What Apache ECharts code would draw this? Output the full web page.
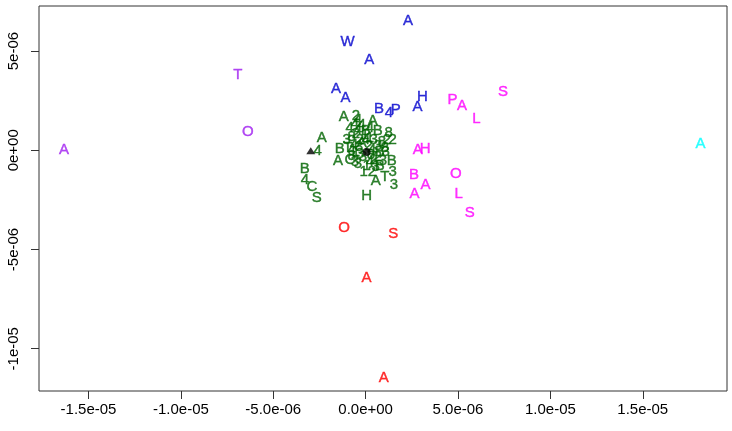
<!DOCTYPE html>
<html>
<head>
<meta charset="utf-8">
<script src="https://cdn.jsdelivr.net/npm/echarts@6/dist/echarts.min.js"></script>
<style>html,body{margin:0;padding:0;background:#fff}#c{width:732px;height:431px}</style>
</head>
<body>
<div id="c"></div>
<script>
// tick values and labels
const xTickValues = [-15e-6, -10e-6, -5e-6, 0, 5e-6, 10e-6, 15e-6];
const xTickLabels = ['-1.5e-05', '-1.0e-05', '-5.0e-06', '0.0e+00', '5.0e-06', '1.0e-05', '1.5e-05'];
const yTickValues = [-10e-6, -5e-6, 0, 5e-6];
const yTickLabels = ['-1e-05', '-5e-06', '0e+00', '5e-06'];

// points: [x, y, label]
const purplePoints = [
  [-16.33e-6, 0.0e-6, 'A'], [-6.92e-6, 3.78e-6, 'T'], [-6.37e-6, 0.91e-6, 'O']
];
const bluePoints = [
  [2.30e-6, 6.51e-6, 'A'], [-0.98e-6, 5.47e-6, 'W'], [0.19e-6, 4.57e-6, 'A'],
  [-1.61e-6, 3.11e-6, 'A'], [-1.09e-6, 2.65e-6, 'A'], [3.08e-6, 2.69e-6, 'H'],
  [2.81e-6, 2.18e-6, 'A'], [0.73e-6, 2.09e-6, 'B'], [1.26e-6, 1.91e-6, '4'],
  [1.63e-6, 2.04e-6, 'P']
];
const magentaPoints = [
  [7.44e-6, 2.94e-6, 'S'], [4.70e-6, 2.55e-6, 'P'], [5.22e-6, 2.22e-6, 'A'],
  [6.00e-6, 1.60e-6, 'L'], [2.82e-6, 0.0e-6, 'A'], [3.22e-6, 0.09e-6, 'H'],
  [2.62e-6, -1.26e-6, 'B'], [3.24e-6, -1.76e-6, 'A'], [2.65e-6, -2.22e-6, 'A'],
  [4.88e-6, -1.17e-6, 'O'], [5.04e-6, -2.18e-6, 'L'], [5.64e-6, -3.16e-6, 'S']
];
const cyanPoints = [
  [18.12e-6, 0.30e-6, 'A']
];
const redPoints = [
  [-1.16e-6, -3.91e-6, 'O'], [1.49e-6, -4.20e-6, 'S'], [0.05e-6, -6.41e-6, 'A'],
  [0.98e-6, -11.45e-6, 'A']
];
const greenPoints = [
  [-1.18e-6, 1.66e-6, 'A'], [-0.53e-6, 1.71e-6, '2'], [0.39e-6, 1.46e-6, 'A'],
  [-0.58e-6, 1.31e-6, '4'], [-0.42e-6, 1.01e-6, '4'], [-0.75e-6, 0.70e-6, '8'],
  [-0.31e-6, 0.50e-6, '2'], [-0.96e-6, 0.10e-6, 'T'], [-1.40e-6, 0.05e-6, 'B'],
  [-1.50e-6, -0.55e-6, 'A'], [-0.85e-6, -0.50e-6, 'C'], [-0.42e-6, -0.70e-6, '3'],
  [-0.10e-6, -1.11e-6, '1'], [0.06e-6, -2.32e-6, 'H'], [0.55e-6, -1.56e-6, 'A'],
  [1.04e-6, -1.36e-6, 'T'], [1.47e-6, -1.11e-6, '3'], [1.53e-6, -1.76e-6, '3'],
  [1.42e-6, -0.55e-6, 'B'], [1.09e-6, -0.10e-6, '3'], [1.15e-6, 0.50e-6, '2'],
  [1.47e-6, 0.50e-6, '2'], [0.88e-6, 0.40e-6, '8'], [0.66e-6, 0.96e-6, 'B'],
  [0.23e-6, 1.11e-6, '4'], [0.44e-6, 0.50e-6, '3'], [-0.04e-6, 0.76e-6, '1'],
  [-0.64e-6, 0.25e-6, '4'], [-0.31e-6, -0.20e-6, '3'], [0.66e-6, -0.35e-6, '2'],
  [0.23e-6, -0.60e-6, '4'], [0.55e-6, -0.86e-6, '3'], [-0.75e-6, -0.30e-6, '8'],
  [0.77e-6, -0.81e-6, 'B'], [-0.21e-6, 0.35e-6, 'A'], [0.34e-6, 0.0e-6, '4'],
  [-0.53e-6, -0.10e-6, '1'], [0.17e-6, 0.20e-6, '2'], [0.93e-6, -0.55e-6, '3'],
  [-0.86e-6, 1.11e-6, '4'], [-0.21e-6, 1.26e-6, '4'], [0.01e-6, 0.96e-6, 'B'],
  [-0.53e-6, 0.81e-6, '2'], [0.23e-6, 0.65e-6, '1'], [0.66e-6, 0.20e-6, '3'],
  [1.04e-6, 0.10e-6, '8'], [-0.37e-6, 0.15e-6, '3'], [-0.75e-6, 0.0e-6, '4'],
  [-0.15e-6, -0.35e-6, '3'], [0.28e-6, -0.25e-6, '8'], [0.44e-6, -0.50e-6, '2'],
  [-0.58e-6, -0.60e-6, '3'], [0.06e-6, -0.81e-6, '1'], [0.34e-6, -1.11e-6, '2'],
  [0.77e-6, -0.10e-6, 'B'], [-0.42e-6, 1.51e-6, '4'], [0.01e-6, 0.50e-6, '4'],
  [-1.02e-6, 0.50e-6, '3'], [1.25e-6, 0.86e-6, '8'],
  [-2.37e-6, 0.65e-6, 'A'], [-2.59e-6, -0.05e-6, '4'], [-3.29e-6, -0.96e-6, 'B'],
  [-3.29e-6, -1.51e-6, '4'], [-2.91e-6, -1.86e-6, 'C'], [-2.64e-6, -2.42e-6, 'S']
];
const trianglePoints = [[-2.97e-6, -0.03e-6]];
const dotPoints = [[0.05e-6, -0.09e-6]];

const FONT = 'Liberation Sans';
function textSeries(data, color) {
  return {
    type: 'scatter',
    data: data,
    symbol: 'circle',
    symbolSize: 1,
    itemStyle: { color: 'rgba(0,0,0,0)' },
    silent: true,
    label: {
      show: true,
      position: 'inside',
      formatter: p => p.value[2],
      color: color,
      textBorderColor: color,
      textBorderWidth: 0.4,
      fontFamily: FONT,
      fontSize: 15
    },
    z: 3
  };
}
function fmt(values, labels) {
  return v => {
    const i = values.findIndex(t => Math.abs(t - v) < 1e-10);
    return i >= 0 ? labels[i] : '';
  };
}

const chart = echarts.init(document.getElementById('c'), null, { renderer: 'canvas' });
chart.setOption({
  animation: false,
  backgroundColor: '#ffffff',
  grid: {
    left: 39, right: 5, top: 6, bottom: 40,
    show: true, borderColor: '#333', borderWidth: 1, backgroundColor: 'transparent'
  },
  xAxis: {
    type: 'value',
    min: -17.68e-6, max: 19.56e-6,
    axisLine: { show: false, onZero: false },
    splitLine: { show: false },
    axisTick: { show: true, customValues: xTickValues, length: 8, lineStyle: { color: '#333' } },
    axisLabel: {
      customValues: xTickValues,
      formatter: fmt(xTickValues, xTickLabels),
      margin: 11, color: '#000', fontFamily: FONT, fontSize: 15
    }
  },
  yAxis: {
    type: 'value',
    min: -12.13e-6, max: 7.27e-6,
    axisLine: { show: false, onZero: false },
    splitLine: { show: false },
    axisTick: { show: true, customValues: yTickValues, length: 8, lineStyle: { color: '#333' } },
    axisLabel: {
      customValues: yTickValues,
      formatter: fmt(yTickValues, yTickLabels),
      rotate: 90, margin: 18, color: '#000', fontFamily: FONT, fontSize: 15
    }
  },
  series: [
    textSeries(purplePoints, '#A020F0'),
    textSeries(bluePoints, '#0000CD'),
    textSeries(magentaPoints, '#FF00FF'),
    textSeries(cyanPoints, '#00FFFF'),
    textSeries(redPoints, '#FF0000'),
    textSeries(greenPoints, '#006400'),
    {
      type: 'scatter', data: trianglePoints, symbol: 'triangle', symbolSize: [9, 7],
      itemStyle: { color: '#000' }, silent: true, z: 4
    },
    {
      type: 'scatter', data: dotPoints, symbol: 'circle', symbolSize: 8,
      itemStyle: { color: '#000' }, silent: true, z: 4
    }
  ]
});
</script>
</body>
</html>
